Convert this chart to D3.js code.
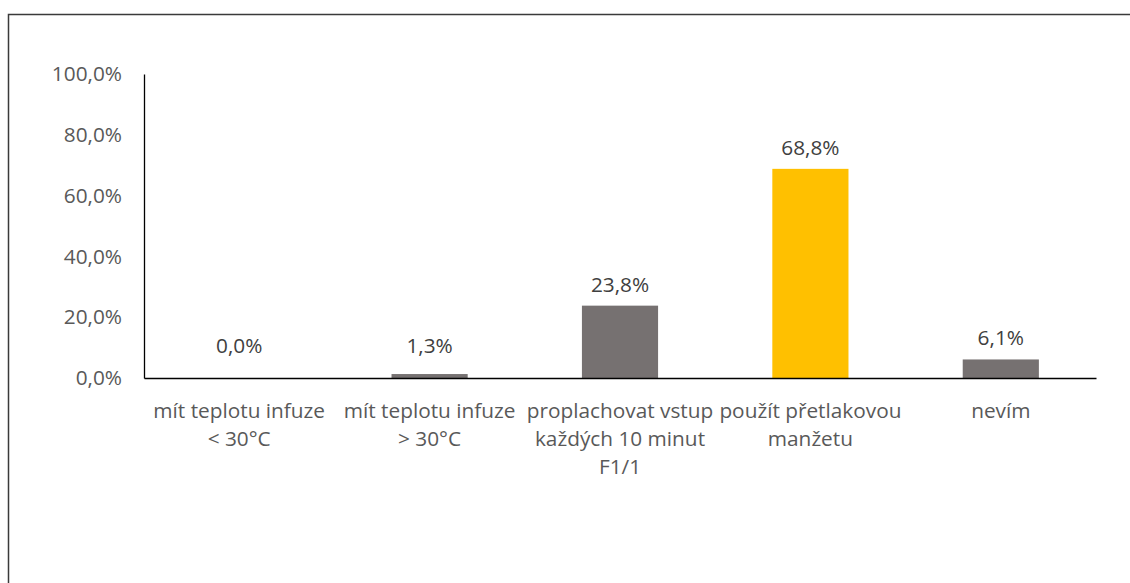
<!DOCTYPE html>
<html>
<head>
<meta charset="utf-8">
<script src="https://cdn.jsdelivr.net/npm/d3@7"></script>
<style>
  html, body { margin: 0; padding: 0; background: #fff; }
  svg { display: block; }
  text { font-family: "Open Sans", Lato, "Liberation Sans", sans-serif; }
</style>
</head>
<body>
<svg id="chart" width="1130" height="583"></svg>
<script>
const categories = [
  ["mít teplotu infuze", "< 30°C"],
  ["mít teplotu infuze", "> 30°C"],
  ["proplachovat vstup", "každých 10 minut", "F1/1"],
  ["použít přetlakovou", "manžetu"],
  ["nevím"]
];
const values = [0.0, 1.3, 23.8, 68.8, 6.1];
const barColors = ["#767171", "#767171", "#767171", "#FFC000", "#767171"];
const yTicks = [0, 20, 40, 60, 80, 100];

const svg = d3.select("#chart");
const W = 1130, H = 583;
const margin = { left: 144, right: 34, top: 74, bottom: 205 };
const FS = 20.8;

// outer frame
svg.append("rect")
  .attr("x", 8.5).attr("y", 14.5)
  .attr("width", 1140).attr("height", 600)
  .attr("fill", "none").attr("stroke", "#3a3a3a").attr("stroke-width", 1.5);

const x = d3.scaleBand()
  .domain(d3.range(categories.length))
  .range([margin.left, W - margin.right])
  .paddingInner(0.6).paddingOuter(0.3);

const y = d3.scaleLinear().domain([0, 100]).range([H - margin.bottom, margin.top]);

// bars
svg.selectAll("rect.bar").data(values).enter().append("rect")
  .attr("class", "bar")
  .attr("x", (d, i) => x(i))
  .attr("y", d => y(d))
  .attr("width", x.bandwidth())
  .attr("height", d => y(0) - y(d))
  .attr("fill", (d, i) => barColors[i]);

// y axis
const yAxis = d3.axisLeft(y).tickValues(yTicks).tickSize(0).tickPadding(22)
  .tickFormat(d => d.toFixed(1).replace(".", ",") + "%");
const yg = svg.append("g").attr("transform", `translate(${margin.left},0)`).call(yAxis);
yg.select(".domain").attr("stroke", "#000").attr("stroke-width", 1.3);
yg.selectAll("text").attr("fill", "#595959").attr("font-size", FS)
  .attr("font-family", "'Open Sans', sans-serif");

// x axis
const xAxis = d3.axisBottom(x).tickSize(0).tickFormat("");
const xg = svg.append("g").attr("transform", `translate(0,${y(0)})`).call(xAxis);
xg.select(".domain").attr("stroke", "#000").attr("stroke-width", 1.3);

// category labels
categories.forEach((lines, i) => {
  const t = svg.append("text")
    .attr("text-anchor", "middle")
    .attr("fill", "#595959")
    .attr("font-size", FS)
    .attr("x", x(i) + x.bandwidth() / 2)
    .attr("y", y(0) + 40);
  lines.forEach((ln, j) => {
    t.append("tspan")
      .attr("x", x(i) + x.bandwidth() / 2)
      .attr("dy", j === 0 ? 0 : 28)
      .text(ln);
  });
});

// data labels
svg.selectAll("text.val").data(values).enter().append("text")
  .attr("class", "val")
  .attr("text-anchor", "middle")
  .attr("fill", "#404040")
  .attr("font-size", FS)
  .attr("x", (d, i) => x(i) + x.bandwidth() / 2)
  .attr("y", d => Math.min(y(d) - 14, y(0) - 25))
  .text(d => d.toFixed(1).replace(".", ",") + "%");
</script>
</body>
</html>
